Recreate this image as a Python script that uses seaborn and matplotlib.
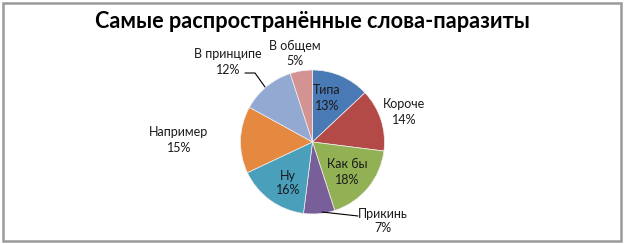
import matplotlib
matplotlib.use("Agg")
import matplotlib.pyplot as plt
import seaborn as sns
from matplotlib.patches import Rectangle

sns.set_theme(style="white")
plt.rcParams['font.family'] = ['Lato', 'Noto Sans', 'DejaVu Sans']

# data
words = ['Типа', 'Короче', 'Как бы', 'Прикинь', 'Ну', 'Например', 'В принципе', 'В общем']
shares = [13, 14, 18, 7, 16, 15, 12, 5]
colors = ['#4a7ab5', '#b44a48', '#92b154', '#795f99', '#4aa0bb', '#e58840', '#93a9d2', '#d39392']

# label positions in pixels (x, y from top)
label_pos = [(327, 98), (404, 112), (347, 172), (383, 221),
             (288, 183), (179, 140), (228, 62), (295, 53)]

W, H = 624, 244
fig = plt.figure(figsize=(W / 100, H / 100), dpi=100)
ax = fig.add_axes([0, 0, 1, 1])

cx, cy, r = 312.5, H - 142, 72
ax.pie(shares, colors=colors, startangle=90, counterclock=False,
       center=(cx, cy), radius=r, frame=True,
       wedgeprops=dict(linewidth=0.5, edgecolor='#f0f0f0'))
ax.set_xlim(0, W)
ax.set_ylim(0, H)
ax.set_aspect('equal')
ax.axis('off')

for w, s, (x, y) in zip(words, shares, label_pos):
    ax.text(x, H - y, f'{w}\n{s}%', ha='center', va='center', fontsize=9,
            color='#1a1a1a', linespacing=1.3)

# leader lines
ax.plot([245, 255, 265], [H - 73, H - 73, H - 87], color='black', lw=0.8)
ax.plot([322, 358], [H - 212, H - 216], color='black', lw=0.8)

ax.text(W / 2, H - 22, 'Самые распространённые слова-паразиты', ha='center', va='center',
        fontsize=15.6, fontweight='bold', color='black')

fig.patches.append(Rectangle((2.5 / W, 3.5 / H), 618 / W, 238 / H, transform=fig.transFigure,
                             fill=False, edgecolor='#9a9a9a', lw=1.8))

fig.savefig('out.png', dpi=100)
